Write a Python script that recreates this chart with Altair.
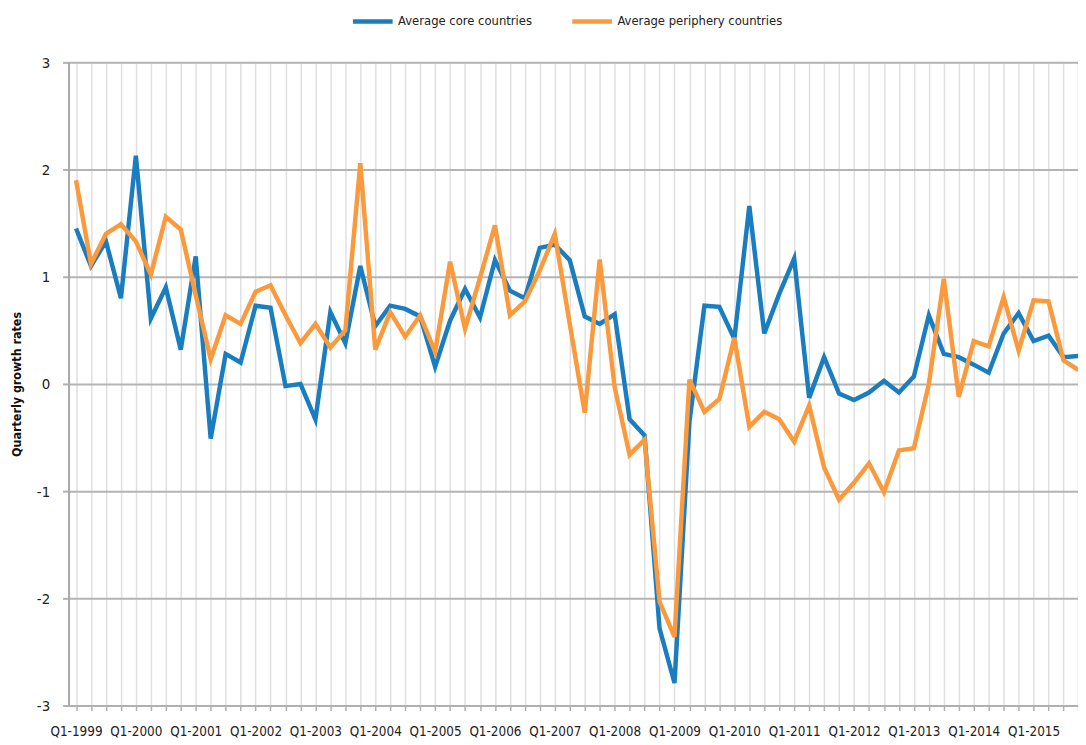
import altair as alt
import pandas as pd

years = list(range(1999, 2016))
quarters = [f"Q{q}-{y}" for y in years for q in (1, 2, 3, 4)]

core = [1.45, 1.10, 1.33, 0.80, 2.13, 0.61, 0.90, 0.32, 1.19, -0.51,
        0.28, 0.20, 0.73, 0.71, -0.02, 0.00, -0.33, 0.67, 0.38, 1.10,
        0.54, 0.73, 0.70, 0.63, 0.16, 0.59, 0.885, 0.62, 1.155, 0.87,
        0.80, 1.27, 1.30, 1.155, 0.63, 0.56, 0.65, -0.33, -0.48, -2.28,
        -2.79, -0.35, 0.73, 0.72, 0.42, 1.66, 0.47, 0.84, 1.17, -0.13,
        0.25, -0.09, -0.15, -0.08, 0.03, -0.08, 0.07, 0.64, 0.28, 0.25,
        0.18, 0.105, 0.47, 0.66, 0.40, 0.45, 0.25, 0.26]

periphery = [1.90, 1.12, 1.40, 1.49, 1.33, 1.02, 1.56, 1.44, 0.83, 0.23,
             0.64, 0.56, 0.86, 0.92, 0.64, 0.38, 0.56, 0.34, 0.50, 2.06,
             0.32, 0.67, 0.44, 0.64, 0.30, 1.14, 0.515, 0.99, 1.48, 0.64,
             0.77, 1.06, 1.40, 0.56, -0.27, 1.16, -0.03, -0.66, -0.52, -2.03,
             -2.36, 0.04, -0.26, -0.14, 0.43, -0.40, -0.26, -0.33, -0.54, -0.20,
             -0.78, -1.08, -0.92, -0.74, -1.01, -0.62, -0.60, 0.00, 0.98, -0.12,
             0.40, 0.35, 0.81, 0.31, 0.78, 0.77, 0.22, 0.13]

series_names = ["Average core countries", "Average periphery countries"]
series_colors = ["#1a7dc0", "#fa9a3d"]
y_ticks = [-3, -2, -1, 0, 1, 2, 3]

rows = []
for name, vals in zip(series_names, [core, periphery]):
    for q, v in zip(quarters, vals):
        rows.append({"quarter": q, "series": name, "value": v})
df = pd.DataFrame(rows)

FONT = "Liberation Sans Narrow, DejaVu Sans Condensed, Roboto, sans-serif"

chart = alt.Chart(df).mark_line(strokeWidth=4.5).encode(
    x=alt.X(
        "quarter:N",
        sort=quarters,
        title=None,
        scale=alt.Scale(paddingInner=0, paddingOuter=0, range=[0, 1025]),
        axis=alt.Axis(
            bandPosition=0,
            labelExpr="indexof(datum.label, 'Q1') == 0 ? datum.label : ''",
            labelAngle=0,
            labelOverlap=False,
            labelFont=FONT,
            labelFontSize=13.5,
            labelColor="#222222",
            labelPadding=14,
            grid=True,
            gridColor="#e0e0e0",
            gridWidth=1.5,
            tickColor="#b0b0b0",
            tickSize=5,
            tickWidth=1.5,
            domainColor="#b0b0b0",
            domainWidth=2,
        ),
    ),
    y=alt.Y(
        "value:Q",
        scale=alt.Scale(domain=[-3, 3], nice=False),
        axis=alt.Axis(
            values=y_ticks,
            labelExpr="datum.value < 0 ? '-' + abs(datum.value) : '' + datum.value",
            title="Quarterly growth rates",
            titleFont=FONT,
            titleFontSize=12.5,
            titleFontWeight="bold",
            titleColor="#111111",
            titleX=-45,
            labelFont=FONT,
            labelFontSize=15,
            labelColor="#222222",
            labelPadding=13,
            grid=True,
            gridColor="#b4b4b4",
            gridWidth=2,
            tickColor="#b0b0b0",
            tickSize=6,
            tickWidth=2,
            domainColor="#a8a8a8",
            domainWidth=2,
        ),
    ),
    color=alt.Color(
        "series:N",
        scale=alt.Scale(domain=series_names, range=series_colors),
        legend=alt.Legend(
            title=None,
            orient="none",
            direction="horizontal",
            legendX=284,
            legendY=-64,
            symbolType="stroke",
            symbolStrokeWidth=4.5,
            symbolSize=1600,
            labelFont=FONT,
            labelFontSize=13,
            labelLimit=400,
            labelColor="#222222",
            labelOffset=3,
            columnPadding=30,
            padding=0,
        ),
    ),
).properties(
    width=1017,
    height=648,
    autosize=alt.AutoSizeParams(type="none"),
    padding={"left": 61, "top": 52, "right": 0, "bottom": 37},
).configure_view(stroke=None).configure(background="white")

chart.save("out.html", embed_options={"renderer": "svg", "actions": False})
